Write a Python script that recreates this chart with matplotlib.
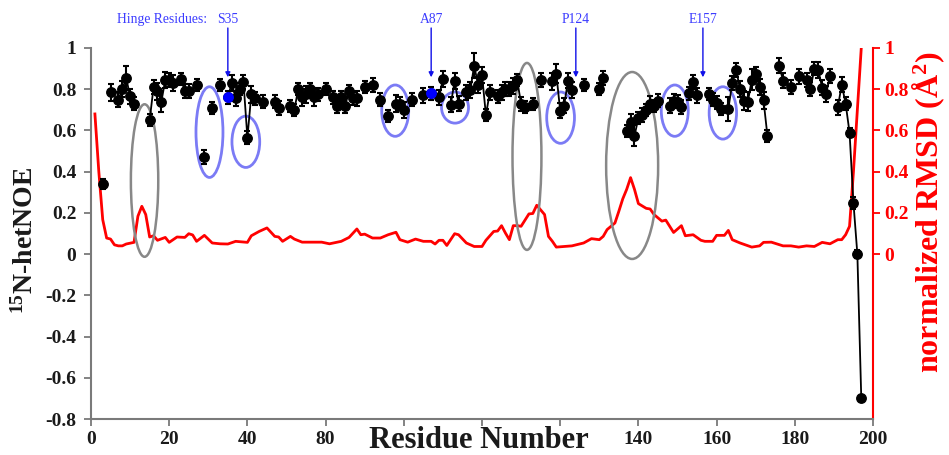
import numpy as np
import matplotlib
matplotlib.use('Agg')
import matplotlib.pyplot as plt
from matplotlib.patches import Ellipse

# ---------------- data ----------------
noe_res = [3, 5, 7, 8, 9, 10, 11, 15, 16, 17, 18, 19, 20, 21, 23, 24, 25, 27, 29, 31, 33,
           35, 36, 37, 38, 39, 40, 41, 42, 44, 47, 48, 51, 52, 53, 54, 55, 56, 57, 58, 60,
           62, 63, 64, 65, 66, 67, 68, 70, 72, 74, 76, 78, 79, 80, 82, 85, 87, 89, 90, 92,
           93, 94, 96, 97, 98, 99, 100, 101, 102, 104, 105, 106, 107, 108, 109, 110, 111,
           113, 115, 118, 119, 120, 121, 122, 123, 126, 130, 131, 137, 138, 139, 140, 141,
           142, 143, 144, 145, 148, 149, 150, 151, 153, 154, 155, 158, 159, 160, 161, 163,
           164, 165, 166, 167, 168, 169, 170, 171, 172, 173, 176, 177, 179, 181, 183, 184,
           185, 186, 187, 188, 189, 191, 192, 193, 194, 195, 196, 197]
noe_val = [0.34, 0.785, 0.75, 0.80, 0.855, 0.765, 0.73, 0.65, 0.81, 0.79, 0.74, 0.845, 0.845,
           0.83, 0.85, 0.79, 0.79, 0.82, 0.47, 0.71, 0.82,
           0.76, 0.83, 0.755, 0.80, 0.835, 0.565, 0.775, 0.755, 0.74, 0.74, 0.71, 0.72, 0.70,
           0.80, 0.76, 0.775, 0.80, 0.76, 0.775, 0.80,
           0.76, 0.72, 0.76, 0.72, 0.79, 0.755, 0.755, 0.81, 0.82, 0.75, 0.67, 0.73, 0.73,
           0.70, 0.75, 0.77, 0.78, 0.76, 0.85, 0.725,
           0.84, 0.73, 0.785, 0.795, 0.915, 0.82, 0.87, 0.675, 0.785, 0.765, 0.785, 0.80,
           0.80, 0.815, 0.845, 0.728, 0.714,
           0.728, 0.845, 0.838, 0.875, 0.696, 0.72, 0.842, 0.797, 0.82, 0.80, 0.854, 0.598,
           0.639, 0.574, 0.66, 0.675,
           0.70, 0.73, 0.72, 0.745, 0.72, 0.745, 0.74, 0.715, 0.78, 0.834, 0.77, 0.777, 0.75,
           0.735, 0.704, 0.704,
           0.829, 0.894, 0.801, 0.744, 0.74, 0.846, 0.875, 0.81, 0.746, 0.574, 0.915, 0.842,
           0.81, 0.862, 0.845, 0.801,
           0.90, 0.893, 0.808, 0.777, 0.865, 0.712, 0.822, 0.73, 0.59, 0.249, 0.0, -0.698]
noe_err = [0.025, 0.04, 0.035, 0.04, 0.06, 0.035, 0.03, 0.03, 0.035, 0.04, 0.05, 0.04, 0.035,
           0.04, 0.03, 0.035, 0.035, 0.03, 0.035, 0.03, 0.03,
           0.03, 0.04, 0.035, 0.03, 0.035, 0.03, 0.04, 0.03, 0.03, 0.03, 0.035, 0.03, 0.03,
           0.03, 0.04, 0.04, 0.03, 0.04, 0.03, 0.03,
           0.03, 0.035, 0.03, 0.035, 0.03, 0.03, 0.035, 0.03, 0.035, 0.03, 0.03, 0.04, 0.03,
           0.04, 0.03, 0.035, 0.03, 0.035, 0.04, 0.035,
           0.04, 0.035, 0.035, 0.04, 0.06, 0.04, 0.04, 0.03, 0.035, 0.03, 0.035, 0.035,
           0.035, 0.04, 0.03, 0.035, 0.03,
           0.03, 0.035, 0.04, 0.045, 0.035, 0.035, 0.035, 0.04, 0.03, 0.03, 0.035, 0.03,
           0.04, 0.05, 0.03, 0.035,
           0.03, 0.035, 0.03, 0.03, 0.035, 0.03, 0.03, 0.035, 0.03, 0.035, 0.035, 0.03, 0.03,
           0.03, 0.03, 0.06,
           0.035, 0.035, 0.04, 0.045, 0.045, 0.05, 0.035, 0.04, 0.04, 0.03, 0.035, 0.035,
           0.035, 0.035, 0.035, 0.035,
           0.03, 0.04, 0.035, 0.04, 0.035, 0.035, 0.035, 0.03, 0.02, 0.03, 0.02, 0.01]

rmsd_res = [1, 2, 3, 4, 5, 6, 7, 8, 9, 11, 12, 13, 14, 15, 16, 17, 19, 20, 22, 24, 25, 26, 27,
            29, 31, 33, 35, 37, 40, 41, 43, 45, 47, 48, 49, 51, 52, 54, 59, 61, 64, 66, 68,
            69, 70, 72, 74, 76, 78, 79, 81, 83, 85, 87, 88, 89, 90, 91, 93, 94, 96, 98, 100,
            101, 103, 104, 105, 106, 107, 108, 109, 110, 112, 113, 114, 116, 117, 118, 119,
            121, 123, 125, 126, 128, 130, 131, 132, 134, 135, 136, 137, 138, 139, 140, 142,
            143, 144, 146, 147, 149, 151, 152, 154, 156, 157, 159, 160, 162, 163, 164, 166,
            169, 171, 172, 174, 177, 179, 181, 183, 185, 187, 189, 191, 192, 193, 194, 195,
            196, 197]
rmsd_val = [0.68, 0.40, 0.167, 0.078, 0.073, 0.045, 0.040, 0.040, 0.049, 0.057, 0.184, 0.232,
            0.192, 0.083, 0.089, 0.067, 0.081, 0.057, 0.083, 0.081, 0.099, 0.093, 0.062,
            0.091, 0.054, 0.050, 0.049, 0.062, 0.057, 0.089, 0.110, 0.127, 0.086, 0.083, 0.062,
            0.086, 0.073, 0.058, 0.058, 0.050, 0.062, 0.081, 0.122,
            0.094, 0.097, 0.078, 0.078, 0.094, 0.106, 0.070, 0.058, 0.073, 0.062, 0.062, 0.049,
            0.067, 0.067, 0.042, 0.099, 0.094, 0.054, 0.037, 0.037,
            0.067, 0.110, 0.112, 0.138, 0.102, 0.070, 0.138, 0.138, 0.135, 0.195, 0.197, 0.237,
            0.192, 0.086, 0.062, 0.034,
            0.037, 0.040, 0.049, 0.054, 0.075, 0.070, 0.086, 0.119, 0.151, 0.208, 0.268, 0.314,
            0.371, 0.314, 0.245, 0.222,
            0.219, 0.192, 0.160, 0.165, 0.105, 0.138, 0.089, 0.094, 0.067, 0.062, 0.062, 0.091,
            0.091, 0.115, 0.070, 0.054,
            0.034, 0.040, 0.057, 0.058, 0.040, 0.040, 0.034, 0.040, 0.037, 0.057, 0.050, 0.070,
            0.070, 0.094, 0.135, 0.40,
            0.70, 1.0]

hinge_labels = ['S35', 'A87', 'P124', 'E157']
hinge_res = [35, 87, 124, 156.5]
hinge_noe = [0.76, 0.78]          # blue-highlighted points (S35, A87)

x_ticks = [0, 20, 40, 60, 80, 100, 120, 140, 160, 180, 200]
x_ticklabels = ['0', '20', '40', '80', '', '', '', '140', '160', '180', '200']
y_ticks = [-0.8, -0.6, -0.4, -0.2, 0, 0.2, 0.4, 0.6, 0.8, 1.0]
y_ticklabels = ['-0.8', '-0.6', '-0.4', '-0.2', '0', '0.2', '0.4', '0.6', '0.8', '1']
y2_ticks = [0, 0.2, 0.4, 0.6, 0.8, 1.0]
y2_ticklabels = ['0', '0.2', '0.4', '0.6', '0.8', '1']

# highlight ellipses (center x, center y, width, height)
gray_ellipses = [(13.7, 0.357, 7.0, 0.74), (111.5, 0.474, 7.4, 0.907), (138.4, 0.43, 13.3, 0.907)]
blue_ellipses = [(30.3, 0.592, 6.9, 0.44), (39.6, 0.545, 7.1, 0.249), (77.8, 0.696, 6.9, 0.249),
                 (93.1, 0.711, 6.9, 0.151), (120.1, 0.662, 7.1, 0.249), (149.3, 0.696, 6.9, 0.249),
                 (161.6, 0.685, 7.0, 0.254)]

# ---------------- style ----------------
plt.rcParams['font.family'] = ['Liberation Serif', 'DejaVu Serif']
plt.rcParams['font.weight'] = 'bold'
plt.rcParams['mathtext.fontset'] = 'custom'
plt.rcParams['mathtext.rm'] = 'Liberation Serif:bold'
plt.rcParams['mathtext.bf'] = 'Liberation Serif:bold'
plt.rcParams['mathtext.it'] = 'Liberation Serif:bold:italic'
plt.rcParams['mathtext.default'] = 'bf'

W, H = 949, 455
fig = plt.figure(figsize=(W / 100, H / 100), dpi=100)
ax = fig.add_axes([91 / W, 36 / H, (873 - 91) / W, (419 - 48) / H])
ax2 = ax.twinx()
ax.set_zorder(2)
ax2.set_zorder(1)
ax.patch.set_visible(False)

axis_gray = '#7a7a7a'
for a in (ax, ax2):
    a.set_xlim(0, 200)
    a.set_ylim(-0.8, 1.0)
    a.spines['top'].set_visible(False)

ax.spines['right'].set_visible(False)
ax.spines['left'].set_color(axis_gray)
ax.spines['bottom'].set_color(axis_gray)
ax.spines['left'].set_linewidth(1.5)
ax.spines['bottom'].set_linewidth(1.5)
ax2.spines['left'].set_visible(False)
ax2.spines['bottom'].set_visible(False)
ax2.spines['right'].set_color('red')
ax2.spines['right'].set_linewidth(1.5)

ax.set_xticks(x_ticks)
ax.set_xticklabels(x_ticklabels)
ax.set_yticks(y_ticks)
ax.set_yticklabels(y_ticklabels)
ax.tick_params(axis='x', direction='out', length=5, width=1.3, color=axis_gray,
               labelsize=14, pad=4, labelcolor='#1a1a1a')
ax.tick_params(axis='y', direction='out', length=5, width=1.3, color=axis_gray,
               labelsize=14, pad=5.5, labelcolor='#1a1a1a')
ax2.set_yticks(y2_ticks)
ax2.set_yticklabels(y2_ticklabels)
ax2.tick_params(axis='y', direction='out', length=5, width=1.3, color='red',
                labelsize=14, pad=3, labelcolor='red')

# red RMSD line
ax2.plot(rmsd_res, rmsd_val, color='red', lw=2.0, zorder=2)

# ellipses
for (cx, cy, w, h) in gray_ellipses:
    ax.add_patch(Ellipse((cx, cy), w, h, fill=False, edgecolor='#888888', lw=1.8, zorder=1))
for (cx, cy, w, h) in blue_ellipses:
    ax.add_patch(Ellipse((cx, cy), w, h, fill=False, edgecolor='#7b7bf5', lw=2.0, zorder=1))

# NOE series with gaps for missing residues
full_x = np.arange(1, 198)
full_y = np.full(full_x.shape, np.nan)
full_e = np.full(full_x.shape, np.nan)
for r, v, e in zip(noe_res, noe_val, noe_err):
    full_y[r - 1] = v
    full_e[r - 1] = e
ax.errorbar(full_x, full_y, yerr=full_e, fmt='-o', color='black', ms=6.8, lw=1.3,
            elinewidth=1.5, capsize=2.5, capthick=1.5, zorder=3)
ax.plot(hinge_res[:2], hinge_noe, 'o', color='#0000ff', ms=6.8, zorder=4)

# hinge annotations
for lab, r in zip(hinge_labels, hinge_res):
    ax.annotate('', xy=(r, 0.858), xytext=(r, 1.097),
                arrowprops=dict(arrowstyle='-|>', color='#1010e8', lw=1.0, mutation_scale=7,
                                shrinkA=0, shrinkB=0),
                annotation_clip=False)
    ax.text(r, 1.139, lab, ha='center', va='center', fontsize=9.8, fontweight='normal',
            color='#3c3cff', clip_on=False)
ax.text(29.7, 1.139, 'Hinge Residues:', ha='right', va='center', fontsize=9.8,
        fontweight='normal', color='#3c3cff', clip_on=False)

# axis titles
fig.text(479 / W, (H - 448) / H, 'Residue Number', ha='center', va='baseline',
         fontsize=22, fontweight='bold', color='#1a1a1a')
fig.text(25 / W, (H - 240) / H, '$^{15}$N-hetNOE', rotation=90, ha='center', va='center',
         fontsize=20, fontweight='bold', color='#1a1a1a')
fig.text(929 / W, (H - 212) / H, 'normalized RMSD (Å$^{2}$)', rotation=90, ha='center',
         va='center', fontsize=23, fontweight='bold', color='red')

fig.savefig('out.png', dpi=100)
